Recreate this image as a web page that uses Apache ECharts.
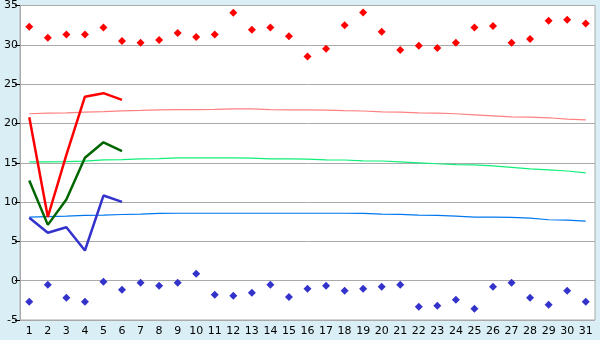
<!DOCTYPE html>
<html><head><meta charset="utf-8">
<script src="https://cdn.jsdelivr.net/npm/echarts@6/dist/echarts.min.js"></script>
<style>html,body{margin:0;padding:0;background:#daeff5;}#c{width:600px;height:340px;}</style>
</head><body><div id="c"></div>
<script>
var days = ["1","2","3","4","5","6","7","8","9","10","11","12","13","14","15","16","17","18","19","20","21","22","23","24","25","26","27","28","29","30","31"];
var recordMax = [32.3,30.9,31.3,31.3,32.2,30.5,30.25,30.6,31.5,31.0,31.3,34.07,31.9,32.2,31.1,28.5,29.5,32.5,34.1,31.65,29.35,29.87,29.6,30.25,32.2,32.4,30.25,30.75,33.05,33.2,32.7];
var recordMin = [-2.69,-0.52,-2.18,-2.69,-0.14,-1.16,-0.27,-0.65,-0.27,0.88,-1.8,-1.93,-1.54,-0.52,-2.06,-1.03,-0.65,-1.29,-1.03,-0.78,-0.52,-3.32,-3.19,-2.43,-3.58,-0.78,-0.27,-2.18,-3.07,-1.29,-2.69];
var normalMax = [21.23,21.3,21.35,21.45,21.5,21.6,21.65,21.73,21.75,21.75,21.78,21.86,21.84,21.75,21.73,21.73,21.7,21.63,21.58,21.48,21.45,21.35,21.32,21.23,21.1,20.97,20.84,20.8,20.72,20.55,20.46];
var normalMean = [15.12,15.12,15.15,15.2,15.37,15.4,15.5,15.52,15.63,15.63,15.63,15.63,15.6,15.5,15.5,15.45,15.37,15.35,15.25,15.22,15.12,14.99,14.87,14.76,14.74,14.61,14.42,14.23,14.1,13.95,13.72];
var normalMin = [8.08,8.15,8.2,8.3,8.33,8.42,8.46,8.55,8.58,8.58,8.58,8.58,8.58,8.58,8.58,8.58,8.58,8.58,8.55,8.46,8.44,8.33,8.3,8.2,8.08,8.08,8.05,7.95,7.75,7.7,7.57];
var actualMax = [20.8,8.1,16.0,23.4,23.85,23.0];
var actualMean = [12.74,7.1,10.33,15.63,17.6,16.47];
var actualMin = [8.0,6.09,6.8,3.84,10.83,10.03];
var yTicks = [-5,0,5,10,15,20,25,30,35];

var chart = echarts.init(document.getElementById('c'), null, {renderer:'canvas'});
function line(data, color, width, z){
  return {type:'line', data:data, symbol:'none', lineStyle:{color:color, width:width}, itemStyle:{color:color}, z:z, animation:false};
}
function pts(data, color){
  return {type:'line', data:data, symbol:'diamond', symbolSize:8, lineStyle:{width:0, opacity:0}, itemStyle:{color:color}, z:5, animation:false};
}
chart.setOption({
  animation:false,
  backgroundColor:'#daeff5',
  grid:{left:20, right:5, top:5, bottom:20, show:true, backgroundColor:'#ffffff', borderColor:'#aaaaaa', borderWidth:1},
  xAxis:{type:'category', data:days, boundaryGap:true,
    axisLine:{lineStyle:{color:'#aaaaaa'}},
    axisTick:{alignWithLabel:true, interval:0, length:5, lineStyle:{color:'#000'}},
    axisLabel:{interval:0, color:'#000', fontFamily:'DejaVu Sans', fontSize:11, margin:6}},
  yAxis:{type:'value', min:yTicks[0], max:yTicks[yTicks.length-1], interval:5,
    axisLine:{show:true, lineStyle:{color:'#aaaaaa'}},
    axisTick:{show:true, length:5, lineStyle:{color:'#000'}},
    axisLabel:{color:'#000', fontFamily:'DejaVu Sans', fontSize:11, margin:2},
    splitLine:{lineStyle:{color:'#aaaaaa', width:1}}},
  series:[
    line(normalMax, '#ff8080', 1.2, 2),
    line(normalMean, '#11ee77', 1.2, 2),
    line(normalMin, '#0077ee', 1.2, 2),
    line(actualMax, '#ff0000', 2.5, 3),
    line(actualMean, '#006600', 2.5, 3),
    line(actualMin, '#3333cc', 2.5, 3),
    pts(recordMax, '#ff0000'),
    pts(recordMin, '#3333cc')
  ]
});
</script></body></html>
